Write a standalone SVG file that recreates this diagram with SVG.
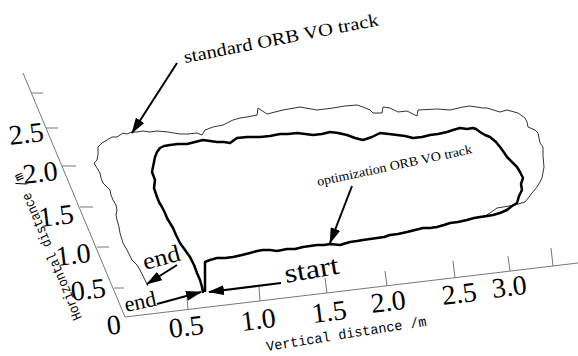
<svg xmlns="http://www.w3.org/2000/svg" width="578" height="356" viewBox="0 0 578 356">
<style>
.ax{stroke:#777;stroke-width:1;fill:none}
.tk{font-family:"Liberation Serif",serif;font-size:28px;fill:#000}
.lab{font-family:"Liberation Mono",monospace;font-size:14px;fill:#000}
.ann{font-family:"Liberation Serif",serif;fill:#000}
.thin{stroke:#333;stroke-width:1;fill:none;stroke-linejoin:round}
.thick{stroke:#000;stroke-width:2.5;fill:none;stroke-linejoin:round}
.arr{stroke:#000;stroke-width:2;fill:none;marker-end:url(#ah)}
</style>
<defs>
<marker id="ah" viewBox="0 0 16 10" refX="15" refY="5" markerWidth="16" markerHeight="10" markerUnits="userSpaceOnUse" orient="auto"><path d="M0,0 L16,5 L0,10 z" fill="#000"/></marker>
</defs>
<rect width="578" height="356" fill="#fff"/>
<g id="axes">
<path class="ax" d="M23,73 L125,317 L578,263"/>
<path class="ax" d="M31,93 h12 M46,128 h12 M62,166 h14 M80,207 h13 M97,247 h12 M114,288 h10"/>
<path class="ax" d="M188,309 l-1,-11 M260,301 l-1,-14 M327,293 l-2,-15 M387,286 l-2,-15 M455,278 l-2,-17 M510,271 l-2,-15 M553,266 l-2,-18"/>
<g class="tk">
<text x="10" y="145" transform="rotate(-7 10 145)">2.5</text>
<text x="24" y="184" transform="rotate(-7 24 184)">2.0</text>
<text x="40" y="227" transform="rotate(-7 40 227)">1.5</text>
<text x="57" y="266" transform="rotate(-7 57 266)">1.0</text>
<text x="72" y="301" transform="rotate(-7 72 301)">0.5</text>
<text x="108" y="335" transform="rotate(-7 108 335)">0</text>
<text x="170" y="338" transform="rotate(-7 170 338)">0.5</text>
<text x="242" y="331" transform="rotate(-7 242 331)">1.0</text>
<text x="313" y="323" transform="rotate(-7 313 323)">1.5</text>
<text x="372" y="313" transform="rotate(-7 372 313)">2.0</text>
<text x="443" y="305" transform="rotate(-7 443 305)">2.5</text>
<text x="493" y="298" transform="rotate(-7 493 298)">3.0</text>
</g>
<text class="lab" x="267" y="351" transform="rotate(-9 267 351)" textLength="162" lengthAdjust="spacingAndGlyphs">Vertical distance /m</text>
<text class="lab" x="82" y="318" font-size="12.5" transform="rotate(-112.5 82 318)" textLength="158" lengthAdjust="spacingAndGlyphs">Horizontal distance /m</text>
</g>
<g id="standard-track">
<path class="thin" d="M470,219 L483,217 L490,213 L497,208 L503,207 L515,205 L525,202 L529,197 L532,193 L537,187 L540,182 L542,178 L544,167 L543,156 L543,147 L540,143 L538,133 L535,130 L528,127 L527,122 L525,118 L518,113 L507,110 L500,112 L487,108 L483,108 L470,106 L463,107 L450,110 L437,109 L418,110 L417,116 L415,115 L407,111 L398,112 L390,108 L383,107 L382,113 L373,113 L370,110 L363,107 L357,105 L345,106 L333,108 L317,110 L300,107 L283,110 L267,114 L258,108 L257,115 L247,117 L240,118 L233,120 L223,125 L213,127 L205,130 L202,135 L197,133 L188,134 L180,134 L168,132 L157,131 L150,132 L143,131 L137,132 L132,132 L127,134 L123,133 L117,137 L112,137 L107,140 L102,143 L98,147 L98,154 L97,160 L94,163 L97,168 L100,173 L101,178 L103,183 L107,187 L110,190 L111,195 L113,200 L116,205 L117,210 L116,215 L117,220 L119,227 L120,233 L123,243 L127,250 L132,260 L137,265 L140,270 L143,276 L145,280 L148,286"/>
</g>
<g id="optimization-track">
<path class="thick" d="M205,292 L205,262 L210,260 L217,258 L225,258 L233,257 L242,255 L250,253 L257,251 L263,250 L270,250 L277,251 L287,249 L295,249 L303,247 L310,246 L317,245 L324,245 L330,244 L340,245 L350,242 L357,241 L363,240 L370,239 L377,238 L384,237 L390,235 L398,234 L407,232 L415,230 L423,228 L430,228 L437,227 L444,225 L450,223 L458,222 L467,220 L474,218 L480,217 L487,216 L493,215 L500,213 L507,210 L512,206 L517,203 L519,196 L522,190 L521,184 L523,178 L520,172 L517,167 L512,162 L507,157 L503,151 L500,147 L496,142 L490,137 L485,135 L480,132 L476,129 L473,128 L467,129 L460,128 L453,130 L447,132 L438,134 L430,135 L422,137 L413,138 L405,136 L397,135 L389,134 L380,133 L372,137 L363,140 L355,138 L347,135 L338,133 L330,132 L322,134 L313,135 L305,134 L297,133 L288,134 L280,134 L270,136 L260,137 L247,137 L237,138 L230,143 L224,142 L217,142 L210,141 L203,140 L195,142 L187,144 L178,144 L170,145 L164,146 L160,148 L157,152 L155,157 L154,162 L153,167 L152,172 L155,180 L154,188 L157,197 L159,202 L162,207 L165,213 L167,218 L170,223 L173,228 L176,235 L180,243 L185,250 L190,257 L194,265 L197,273 L200,280 L202,287 L203,293"/>
</g>
<g id="connectors">
<line class="arr" x1="177" y1="63" x2="132" y2="133"/>
<line class="arr" x1="352" y1="186" x2="330" y2="243"/>
<line class="arr" x1="281" y1="283" x2="209" y2="292"/>
<line class="arr" x1="177" y1="265" x2="147" y2="284"/>
<line class="arr" x1="157" y1="304" x2="201" y2="292"/>
</g>
<g id="labels">
<text class="ann" x="185" y="63" font-size="18" transform="rotate(-11 185 63)" textLength="198" lengthAdjust="spacingAndGlyphs">standard ORB VO track</text>
<text class="ann" x="318" y="186" font-size="13" transform="rotate(-12 318 186)" textLength="158" lengthAdjust="spacingAndGlyphs">optimization  ORB VO track</text>
<text class="ann" x="286" y="283" font-size="27" transform="rotate(-10 286 283)" textLength="55" lengthAdjust="spacingAndGlyphs">start</text>
<text class="ann" x="145" y="270" font-size="24" transform="rotate(-15 145 270)" textLength="38" lengthAdjust="spacingAndGlyphs">end</text>
<text class="ann" x="126" y="312" font-size="22" transform="rotate(-12 126 312)" textLength="32" lengthAdjust="spacingAndGlyphs">end</text>
</g>
</svg>
